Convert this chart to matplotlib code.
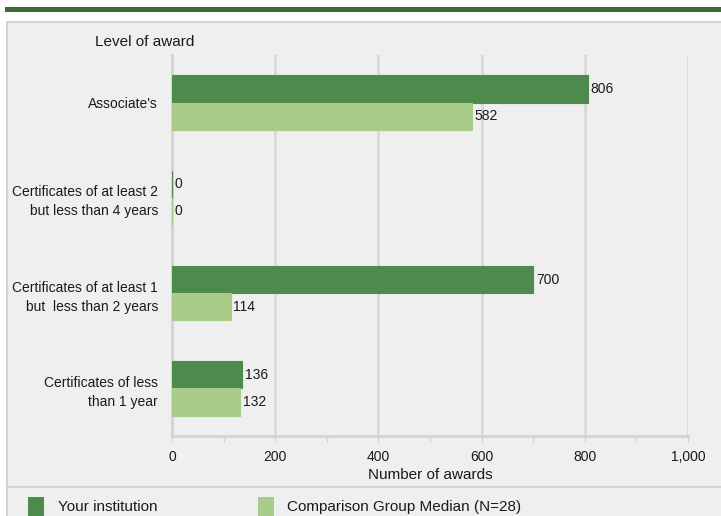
import matplotlib.pyplot as plt
from matplotlib.patches import Rectangle
from matplotlib.lines import Line2D
import numpy as np

plt.rcParams['font.family'] = ['Liberation Sans', 'DejaVu Sans']

categories = [
    "Associate's",
    "Certificates of at least 2\nbut less than 4 years",
    "Certificates of at least 1\nbut  less than 2 years",
    "Certificates of less\nthan 1 year",
]
your_institution = [806, 0, 700, 136]
comparison_median = [582, 0, 114, 132]
x_ticks = [0, 200, 400, 600, 800, 1000]
x_tick_labels = ["0", "200", "400", "600", "800", "1,000"]

dark_green = "#4e8a4c"
light_green = "#a9cc8a"
panel_bg = "#efefef"
grid_col = "#d9d9d9"
text_col = "#1a1a1a"

W, H = 721, 516
fig = plt.figure(figsize=(W / 100, H / 100), dpi=100)
fig.patch.set_facecolor("white")

# top banner and grey panel
fig.patches.append(Rectangle((5 / W, 1 - 12 / H), 1, 5 / H, transform=fig.transFigure,
                             facecolor="#3e6b3b", edgecolor="none", zorder=0))
fig.patches.append(Rectangle((7 / W, -0.01), 1, 1 - 22 / H + 0.01, transform=fig.transFigure,
                             facecolor=panel_bg, edgecolor="#d3d3d3", linewidth=1.5, zorder=0))
fig.lines.append(Line2D([7 / W, 1], [1 - 487 / H] * 2, transform=fig.transFigure,
                        color="#d3d3d3", linewidth=1.5, zorder=1))

ax = fig.add_axes([172 / W, 80 / H, 516 / W, 381 / H])
ax.set_zorder(5)
ax.set_facecolor(panel_bg)

y = np.arange(len(categories))
h = 0.285
ax.barh(y - h / 2, your_institution, height=h, color=dark_green,
        edgecolor=dark_green, linewidth=0.8, zorder=3)
ax.barh(y + h / 2, comparison_median, height=h, color=light_green,
        edgecolor=light_green, linewidth=0.8, zorder=3)

for yi, v in zip(y - h / 2, your_institution):
    ax.text(v + 5, yi, str(v), va="center", ha="left", fontsize=10, color=text_col)
for yi, v in zip(y + h / 2, comparison_median):
    ax.text(v + 5, yi, str(v), va="center", ha="left", fontsize=10, color=text_col)

ax.set_xlim(0, 1000)
ax.set_ylim(len(categories) - 0.5, -0.5)
ax.set_yticks(y)
ax.set_yticklabels(categories, fontsize=10, color=text_col, linespacing=1.45)
ax.set_xticks(x_ticks)
ax.set_xticklabels(x_tick_labels, fontsize=10, color=text_col)
ax.set_xticks(np.arange(100, 1000, 200), minor=True)
ax.tick_params(axis="y", length=0, pad=10)
ax.tick_params(axis="x", which="both", length=4, width=1, color="#d3d3d3", pad=6)
ax.grid(axis="x", color=grid_col, linewidth=2, zorder=0)
for s in ["top", "right"]:
    ax.spines[s].set_visible(False)
ax.spines["left"].set_color("#d3d3d3")
ax.spines["left"].set_linewidth(2)
ax.spines["bottom"].set_color("#d3d3d3")
ax.spines["bottom"].set_linewidth(2)
ax.set_xlabel("Number of awards", fontsize=11, color=text_col, labelpad=3)

fig.text(95 / W, 1 - 42 / H, "Level of award", fontsize=11, va="center", ha="left", color=text_col)

# legend
fig.patches.append(Rectangle((28 / W, -0.01), 16 / W, 19 / H + 0.01, transform=fig.transFigure,
                             facecolor=dark_green, edgecolor="none"))
fig.text(58 / W, 1 - 507 / H, "Your institution", fontsize=11, va="center", ha="left", color=text_col)
fig.patches.append(Rectangle((258 / W, -0.01), 16 / W, 19 / H + 0.01, transform=fig.transFigure,
                             facecolor=light_green, edgecolor="none"))
fig.text(287 / W, 1 - 507 / H, "Comparison Group Median (N=28)", fontsize=11, va="center",
         ha="left", color=text_col)

fig.savefig("out.png", dpi=100)
